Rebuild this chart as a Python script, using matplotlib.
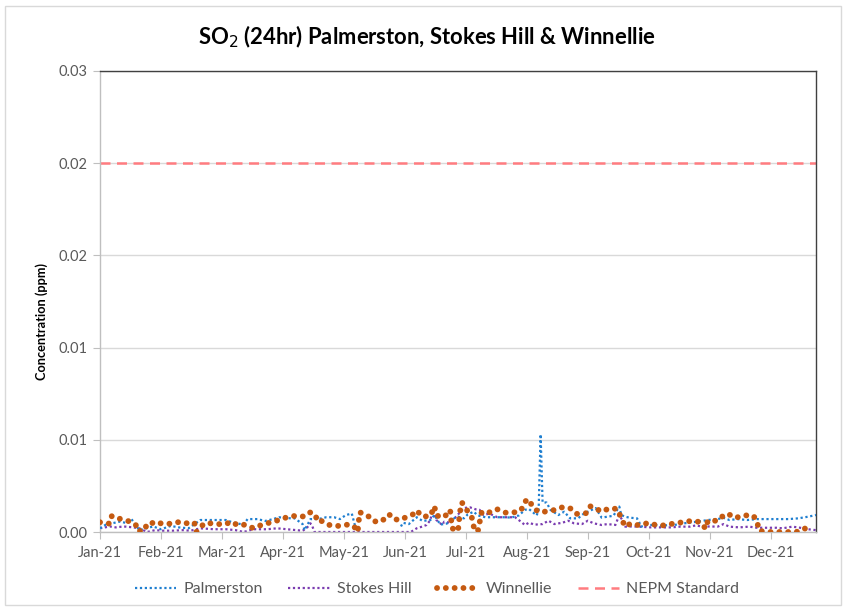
import numpy as np
import matplotlib
matplotlib.use("Agg")
import matplotlib.pyplot as plt
from matplotlib.patches import Rectangle

plt.rcParams['font.family'] = ['Lato', 'DejaVu Sans']

# ---------------- data ----------------
month_labels = ['Jan-21', 'Feb-21', 'Mar-21', 'Apr-21', 'May-21', 'Jun-21',
                'Jul-21', 'Aug-21', 'Sep-21', 'Oct-21', 'Nov-21', 'Dec-21']
tick_days = [0, 31, 62, 93, 124, 155, 186, 217, 248, 279, 310, 341]
y_ticks = [0.0, 0.005, 0.010, 0.015, 0.020, 0.025]
y_tick_labels = ['0.00', '0.01', '0.01', '0.02', '0.02', '0.03']
nepm_standard = 0.02

palm_days = [0, 3, 10, 13, 16, 20, 27, 31, 36, 40, 45, 51, 57, 64, 68, 73, 75, 80, 84, 88,
             91, 95, 99, 103, 104, 107, 111, 115, 119, 122, 125, 128, 129, 130, 140,
             153, 154, 157, 161, 164, 168, 170, 173, 176, 179, 180, 182, 185, 187, 190,
             192, 196, 199, 202, 206, 209, 213, 216, 218, 222, 223, 224, 225, 227, 229,
             233, 236, 239, 243, 246, 250, 252, 255, 258, 261, 264, 265, 267, 269, 273,
             274, 275, 278, 282, 285, 290, 294, 297, 301, 304, 309, 314, 317, 320, 324,
             329, 334, 339, 345, 350, 355, 360, 364]
palm_vals = [0.0002, 0.0004, 0.00056, 0.0005, 0.0007, 0.0001, 0.0003, 0.00015, 0.00033, 0.00025,
             0.0002, 0.00065, 0.00065, 0.00065, 0.0005, 0.0004, 0.0007, 0.0007, 0.0006, 0.0007,
             0.0008, 0.00075, 0.00074, 0.00043, 0.0001, 0.0007, 0.0007, 0.0008, 0.0008, 0.0007,
             0.00092, 0.001, 0.0006, 0.0002, np.nan,
             0.0003, 0.0005, 0.00043, 0.0008, 0.0006, 0.00065, 0.00092, 0.0004, 0.00045, 0.00056,
             0.00074, 0.00083, 0.00074, 0.00096, 0.0011, 0.0009, 0.0008, 0.0008, 0.0008, 0.0008,
             0.00078, 0.0009, 0.0012, 0.00125, 0.0009, 0.0012, 0.0053, 0.0016, 0.0016, 0.0012,
             0.00092, 0.0011, 0.00074, 0.00074, 0.001, 0.0012, 0.0013, 0.00078, 0.00083, 0.00088,
             0.00138, 0.00092, 0.00083, 0.00078, 0.00074, 0.00056, 0.00029, 0.00038, 0.00038, 0.00034,
             0.00038, 0.0004, 0.00047, 0.00053, 0.00056, 0.00065, 0.0007, 0.00077, 0.00065, 0.0007,
             0.00065, 0.0007, 0.0007, 0.0007, 0.0007, 0.00074, 0.00083, 0.00092]

stokes_days = [0, 5, 8, 12, 17, 20, 24, 28, 32, 37, 42, 46, 51, 58, 64, 69, 73, 78, 85, 90,
               95, 100, 103, 105, 107, 108, 109, 158, 161, 164, 166, 168, 169, 171, 174, 175,
               178, 181, 185, 188, 191, 193, 195, 198, 202, 207, 211, 214, 216, 218, 221, 225,
               228, 231, 235, 238, 241, 245, 248, 251, 255, 258, 262, 264, 266, 267, 270, 274,
               280, 285, 290, 295, 300, 303, 306, 310, 314, 317, 320, 325, 330, 334, 339, 344,
               347, 352, 356, 360, 364]
stokes_vals = [0.0002, 0.0003, 0.00025, 0.0003, 0.00025, 0.0002, 0.0, 0.0001, 0.00007, 0.00007,
               0.0001, 0.00007, 0.0002, 0.00015, 0.00015, 0.0001, 0.0, 0.00015, 0.00015, 0.0002,
               0.00015, 0.0001, 0.00007, 0.0002, 0.00047, 0.0003, 0.0, 0.0, 0.0002, 0.0003,
               0.00038, 0.00065, 0.0012, 0.00065, 0.00038, 0.00056, 0.0005, 0.00083, 0.0013, 0.00134,
               0.00123, 0.0012, 0.00092, 0.001, 0.0008, 0.0008, 0.0008, 0.00056, 0.00038, 0.0005,
               0.0004, 0.00043, 0.00061, 0.00043, 0.0005, 0.00061, 0.00047, 0.00043, 0.00061, 0.00047,
               0.00038, 0.00043, 0.00038, 0.00092, 0.00056, 0.00029, 0.0003, 0.00029, 0.00025, 0.00025,
               0.00025, 0.00029, 0.00029, 0.00036, 0.00029, 0.0003, 0.00029, 0.00043, 0.00029, 0.00025,
               0.00029, 0.00023, 0.00023, 0.00023, 0.0002, 0.00029, 0.00023, 0.00015, 0.0001]

winn_days = [0, 5, 6, 10, 14, 18, 20, 22, 25, 27, 32, 36, 41, 45, 48, 49, 53, 57, 63, 67,
             70, 74, 78, 82, 87, 91, 95, 100, 104, 107, 109, 111, 113, 117, 121, 126, 129, 131,
             132, 136, 139, 143, 147, 149, 153, 157, 160, 161, 164, 168, 170, 171, 175, 178,
             179, 182, 183, 184, 186, 189, 190, 192, 194, 197, 199, 202, 206, 210, 214, 216,
             218, 220, 223, 225, 228, 232, 235, 239, 242, 247, 249, 251, 255, 259, 263, 265,
             267, 270, 274, 279, 283, 287, 292, 297, 301, 305, 308, 309, 314, 317, 319, 323,
             327, 332, 334, 335, 339, 349, 354, 358, 362]
winn_vals = [0.00053, 0.00045, 0.00087, 0.00072, 0.00061, 0.00042, 0.0, 0.00033, 0.00025, 0.00054,
             0.00045, 0.00045, 0.00056, 0.00045, 0.0005, 0.0, 0.00047, 0.00047, 0.0004, 0.00056,
             0.00036, 0.0004, 0.0002, 0.00038, 0.00053, 0.00065, 0.0008, 0.00089, 0.00083, 0.00107,
             0.001, 0.00053, 0.0006, 0.00036, 0.00033, 0.0004, 0.00033, 0.0,
             0.00107, 0.0009, 0.00058, 0.00056, 0.00096, 0.0007, 0.00065, 0.0009, 0.00098, 0.00116,
             0.00083, 0.00087, 0.0014, 0.00089, 0.0008, 0.0012,
             0.0002, 0.00005, 0.0011, 0.0016, 0.00127, 0.0008, 0.00029, 0.0, 0.00105, 0.00098,
             0.00116, 0.00123, 0.00105, 0.00105, 0.00116, 0.00165,
             0.00178, 0.00134, 0.00109, 0.00107, 0.00116, 0.0012, 0.00134, 0.00129, 0.00098, 0.00102,
             0.0014, 0.00134, 0.0011, 0.00129, 0.00125, 0.00074,
             0.00029, 0.00047, 0.00036, 0.0005, 0.00036, 0.00036, 0.00047, 0.00054, 0.00061, 0.00054,
             0.00018, 0.00061, 0.00061, 0.0009, 0.001, 0.00076,
             0.0009, 0.0009, 0.00061, 0.00007, 0.0, 0.0, 0.0, 0.0002, 0.00005]

# ---------------- figure ----------------
W, H = 847, 609
fig = plt.figure(figsize=(W / 100, H / 100), dpi=100)
fig.patches.append(Rectangle((5 / W, 4 / H), 836 / W, 599 / H, transform=fig.transFigure,
                             fill=False, edgecolor='#d9d9d9', linewidth=1.0))

ax = fig.add_axes([100 / W, 1 - 532 / H, 716 / W, 461 / H])

c_palm = '#1f7fd0'
c_stokes = '#7a3cb0'
c_winn = '#c55a11'
c_nepm = '#ff7c80'

ax.plot(palm_days, palm_vals, color=c_palm, lw=1.6, linestyle=(0, (1, 1.2)),
        dash_capstyle='butt', label='Palmerston', zorder=3)
ax.plot(stokes_days, stokes_vals, color=c_stokes, lw=1.6, linestyle=(0, (1, 1.2)),
        dash_capstyle='butt', label='Stokes Hill', zorder=2)
ax.plot(winn_days, winn_vals, color=c_winn, lw=4.2, linestyle=(0, (0.01, 1.5)),
        dash_capstyle='round', label='Winnellie', zorder=4)
ax.plot([0, 364], [nepm_standard, nepm_standard], color=c_nepm, lw=1.8,
        linestyle=(0, (4, 2.6)), label='NEPM Standard', zorder=2)

ax.set_xlim(0, 364)
ax.set_ylim(0, 0.025)
ax.set_xticks(tick_days)
ax.set_xticklabels(month_labels)
ax.set_yticks(y_ticks)
ax.set_yticklabels(y_tick_labels)
ax.grid(axis='y', color='#d9d9d9', lw=1.0, zorder=0)
ax.set_axisbelow(True)

for s in ['left', 'bottom']:
    ax.spines[s].set_color('#bfbfbf')
    ax.spines[s].set_linewidth(1.0)
for s in ['top', 'right']:
    ax.spines[s].set_color('#404040')
    ax.spines[s].set_linewidth(1.0)

ax.tick_params(axis='both', colors='#595959', labelsize=10.5, length=5, width=0.8,
               direction='out')
ax.tick_params(axis='x', pad=5, color='#bfbfbf')
ax.tick_params(axis='y', pad=4, color='#bfbfbf')

ax.set_ylabel('Concentration (ppm)', fontsize=9.2, fontweight='bold', color='black')
ax.yaxis.set_label_coords((48 - 100) / 716, (532 - 321) / 461)

fig.text(427 / W, 1 - 37 / H, 'SO$_2$ (24hr) Palmerston, Stokes Hill & Winnellie',
         ha='center', va='center', fontsize=15.8, fontweight='bold', color='black')

leg = fig.legend(loc='center', bbox_to_anchor=(437 / W, 1 - 589 / H), ncol=4, frameon=False,
                 fontsize=11.5, handlelength=2.6, columnspacing=1.6, handletextpad=0.45)
for t in leg.get_texts():
    t.set_color('#595959')

fig.savefig('out.png', dpi=100)
